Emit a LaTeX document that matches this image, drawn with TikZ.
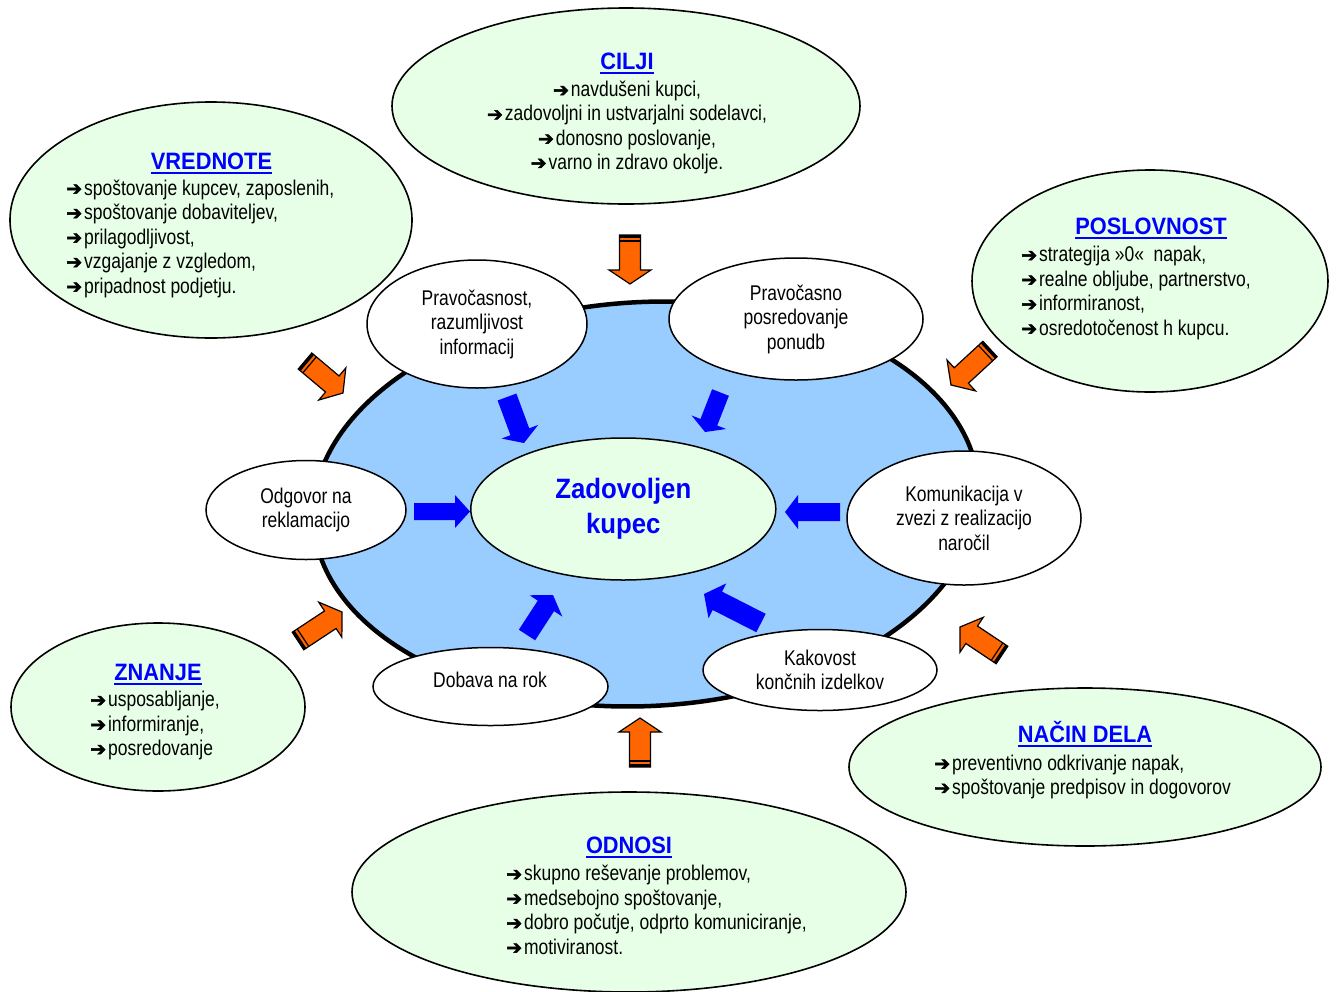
\documentclass[tikz,border=0pt]{standalone}
\usepackage{fontspec}
\setmainfont{Liberation Sans}[FakeStretch=0.82]
\newfontfamily\ttlfont{Liberation Sans}[FakeStretch=0.92]
\newfontfamily\arrowglyphfont{DejaVu Sans}[FakeBold=2.5]
\usetikzlibrary{shapes.geometric,calc}
\definecolor{lgreen}{RGB}{230,255,230}
\definecolor{pondblue}{RGB}{153,204,255}
\definecolor{arrblue}{RGB}{0,0,255}
\definecolor{orng}{RGB}{255,102,0}
\definecolor{ttlblue}{RGB}{0,0,255}
\newcommand\mybody{\fontsize{21.3pt}{24.5pt}\selectfont}
\newcommand\myttl{\ttlfont\bfseries\fontsize{23.7pt}{28pt}\selectfont}
\newcommand\mycenter{\ttlfont\bfseries\fontsize{28pt}{35pt}\selectfont}
\newcommand\arr{{\arrowglyphfont\fontsize{19pt}{19pt}\selectfont ➔}\hspace{2pt}}
% #1 style, #2 tail, #3 tip, #4 shaft half width, #5 head half width, #6 head length
\newcommand\blockarrow[6]{%
  \coordinate (ba-c) at ($(#3)!#6pt!(#2)$);
  \path[#1] ($(#2)!#4pt!90:(#3)$) -- ($(ba-c)!#4pt!90:(#3)$) -- ($(ba-c)!#5pt!90:(#3)$) -- (#3)
    -- ($(ba-c)!#5pt!-90:(#3)$) -- ($(ba-c)!#4pt!-90:(#3)$) -- ($(#2)!#4pt!-90:(#3)$) -- cycle;
}
\newcommand\orangearrow[2]{%
  \blockarrow{oarr}{#1}{#2}{10.5}{21}{14}
  \coordinate (oa-1) at ($(#1)!3pt!(#2)$);
  \coordinate (oa-2) at ($(#1)!6pt!(#2)$);
  \fill[black] ($(#1)!10.5pt!90:(#2)$) -- ($(oa-1)!10.5pt!90:(#2)$) -- ($(oa-1)!10.5pt!-90:(#2)$) -- ($(#1)!10.5pt!-90:(#2)$) -- cycle;
  \draw[line width=1.2pt] ($(oa-2)!10.5pt!90:(#2)$) -- ($(oa-2)!10.5pt!-90:(#2)$);
}
\begin{document}
\begin{tikzpicture}[x=1pt,y=-1pt,
  greenell/.style={ellipse, draw=black, line width=1.6pt, fill=lgreen, inner sep=0pt},
  pondell/.style={ellipse, draw=black, line width=4.5pt, fill=pondblue, inner sep=0pt},
  whiteell/.style={ellipse, draw=black, line width=1.5pt, fill=white, inner sep=0pt, align=center, font=\mybody},
  centerell/.style={ellipse, draw=black, line width=1.5pt, fill=lgreen, inner sep=0pt, align=center, font=\mycenter, text=ttlblue},
  ttl/.style={font=\myttl, text=ttlblue, inner sep=0pt, anchor=base},
  itemtxt/.style={font=\mybody, inner sep=0pt, anchor=base west},
  citemtxt/.style={font=\mybody, inner sep=0pt, anchor=base},
  oarr/.style={fill=orng, draw=black, line width=1.2pt, line join=miter},
  barr/.style={fill=arrblue},
  uline/.style={ttlblue, line width=2pt}
]
\useasboundingbox (0,0) rectangle (1338,991);
\fill[white] (0,0) rectangle (1338,991);

% outer green ellipses
\node[greenell, minimum width=468pt, minimum height=196pt] (cilji) at (626,106) {};
\node[greenell, minimum width=402pt, minimum height=236pt] (vrednote) at (211,220) {};
\node[greenell, minimum width=356pt, minimum height=222pt] (poslovnost) at (1150,281) {};
\node[greenell, minimum width=294pt, minimum height=168pt] (znanje) at (158,707) {};
\node[greenell, minimum width=472pt, minimum height=158pt] (nacin) at (1085,767) {};
\node[greenell, minimum width=554pt, minimum height=200pt] (odnosi) at (629,892) {};

% big blue ellipse
\node[pondell, rotate=3, minimum width=666pt, minimum height=404pt] (pond) at (646,504) {};

% white ellipses
\node[whiteell, minimum width=220pt, minimum height=128pt] (prav1) at (477,324) {Pravočasnost,\\razumljivost\\informacij};
\node[whiteell, minimum width=254pt, minimum height=122pt] (prav2) at (796,319) {Pravočasno\\posredovanje\\ponudb};
\node[whiteell, minimum width=200pt, minimum height=99pt] (odg) at (306,510) {Odgovor na\\reklamacijo};
\node[whiteell, minimum width=234pt, minimum height=134pt] (kom) at (964,518) {Komunikacija v\\zvezi z realizacijo\\naročil};
\node[whiteell, minimum width=235pt, minimum height=78pt] (dob) at (490.5,686.5) {};
\node[citemtxt] (dobt) at (490,687) {Dobava na rok};
\node[whiteell, minimum width=234pt, minimum height=81pt] (kak) at (820,670) {Kakovost\\končnih izdelkov};

% center
\node[centerell, minimum width=305pt, minimum height=142pt] (center) at (623.3,509) {Zadovoljen\\kupec};

% orange arrows
\coordinate (o1t) at (630,235);  \coordinate (o1h) at (630,284);
\coordinate (o2t) at (305,361);  \coordinate (o2h) at (343,393);
\coordinate (o3t) at (990,349);  \coordinate (o3h) at (951,385);
\coordinate (o4t) at (298,641);  \coordinate (o4h) at (342,612);
\coordinate (o5t) at (1002,655); \coordinate (o5h) at (960,627);
\coordinate (o6t) at (640,767);  \coordinate (o6h) at (640,718);
\orangearrow{o1t}{o1h}
\orangearrow{o2t}{o2h}
\orangearrow{o3t}{o3h}
\orangearrow{o4t}{o4h}
\orangearrow{o5t}{o5h}
\orangearrow{o6t}{o6h}

% blue arrows
\coordinate (b1t) at (507,397);   \coordinate (b1h) at (524,443);
\coordinate (b2t) at (720.5,392.5); \coordinate (b2h) at (705,432);
\coordinate (b3t) at (414,511.5); \coordinate (b3h) at (470,511.5);
\coordinate (b4t) at (840,512);   \coordinate (b4h) at (785,512);
\coordinate (b5t) at (527,635);   \coordinate (b5h) at (553,595);
\coordinate (b6t) at (761,623);   \coordinate (b6h) at (704,594);
\blockarrow{barr}{b1t}{b1h}{10}{19.5}{12}
\blockarrow{barr}{b2t}{b2h}{9}{18.5}{10.5}
\blockarrow{barr}{b3t}{b3h}{8.5}{16.5}{15}
\blockarrow{barr}{b4t}{b4h}{9}{17}{13}
\blockarrow{barr}{b5t}{b5h}{9.7}{19.5}{13}
\blockarrow{barr}{b6t}{b6h}{10.3}{19.5}{15}

% titles
\node[ttl] (tcilji) at (627,69.5) {CILJI};
\node[ttl] (tvred) at (211.5,169) {VREDNOTE};
\node[ttl] (tposl) at (1151,234.5) {POSLOVNOST};
\node[ttl] (tznan) at (158,680) {ZNANJE};
\node[ttl] (tnac) at (1085,742) {NAČIN DELA};
\node[ttl] (todn) at (629,853.5) {ODNOSI};
\foreach \n in {tcilji,tvred,tposl,tznan,tnac,todn}
  \draw[uline] ([yshift=-3.5pt]\n.base west) -- ([yshift=-3.5pt]\n.base east);

% lists
\foreach \t [count=\i] in {{navdušeni kupci,},{zadovoljni in ustvarjalni sodelavci,},{donosno poslovanje,},{varno in zdravo okolje.}}
  \node[citemtxt] (ci\i) at (627,{96.5+24.3*(\i-1)}) {\arr\t};
\foreach \t [count=\i] in {{spoštovanje kupcev, zaposlenih,},{spoštovanje dobaviteljev,},{prilagodljivost,},{vzgajanje z vzgledom,},{pripadnost podjetju.}}
  \node[itemtxt] (vr\i) at (66,{195+24.5*(\i-1)}) {\arr\t};
\foreach \t [count=\i] in {{strategija »0«~ napak,},{realne obljube, partnerstvo,},{informiranost,},{osredotočenost h kupcu.}}
  \node[itemtxt] (po\i) at (1021,{261.5+24.5*(\i-1)}) {\arr\t};
\foreach \t [count=\i] in {{usposabljanje,},{informiranje,},{posredovanje}}
  \node[itemtxt] (zn\i) at (90,{706.5+24.5*(\i-1)}) {\arr\t};
\foreach \t [count=\i] in {{preventivno odkrivanje napak,},{spoštovanje predpisov in dogovorov}}
  \node[itemtxt] (na\i) at (934,{770+24.3*(\i-1)}) {\arr\t};
\foreach \t [count=\i] in {{skupno reševanje problemov,},{medsebojno spoštovanje,},{dobro počutje, odprto komuniciranje,},{motiviranost.}}
  \node[itemtxt] (od\i) at (506,{880.5+24.5*(\i-1)}) {\arr\t};
\end{tikzpicture}
\end{document}
